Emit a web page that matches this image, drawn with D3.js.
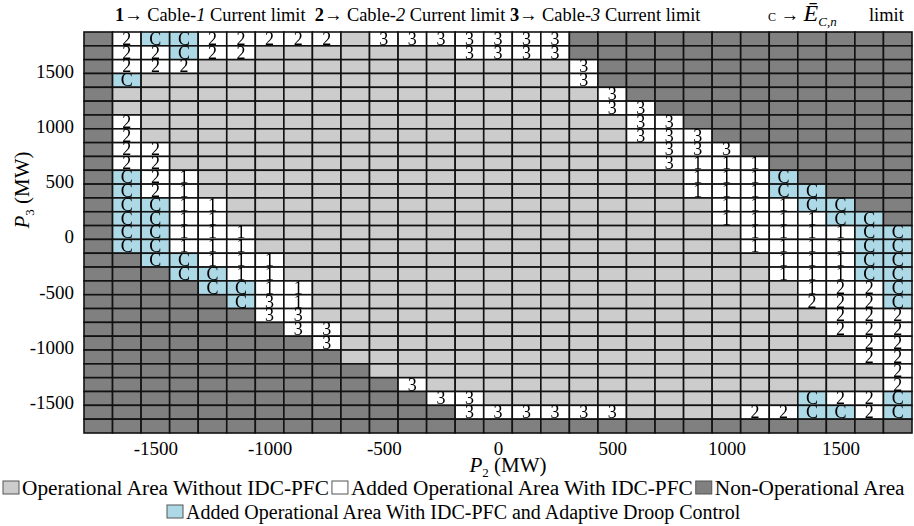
<!DOCTYPE html>
<html>
<head>
<meta charset="utf-8">
<script src="https://cdn.jsdelivr.net/npm/d3@7/dist/d3.min.js"></script>
<style>
  body { margin: 0; background: #fff; }
  text { font-family: "Liberation Serif", "Times New Roman", serif; }
</style>
</head>
<body>
<svg id="chart"></svg>
<script>
// P2 along x, P3 along y, 125 MW steps
let p2Values = d3.range(-1750, 1751, 125);
let p3Values = d3.range(1750, -1751, -125);

// one string per P3 row (top to bottom), one char per P2 column (left to right)
// D = non-operational, G = operational without IDC-PFC,
// 1/2/3 = added with IDC-PFC (limited by that cable), C = added with adaptive droop
let gridRows = [
  "D2CC22222G3333333DDDDDDDDDDDD",
  "D22C22GGGGGGG3333DDDDDDDDDDDD",
  "D222GGGGGGGGGGGGG3DDDDDDDDDDD",
  "DCGGGGGGGGGGGGGGG3DDDDDDDDDDD",
  "DGGGGGGGGGGGGGGGGG3DDDDDDDDDD",
  "DGGGGGGGGGGGGGGGGG33DDDDDDDDD",
  "D2GGGGGGGGGGGGGGGGG33DDDDDDDD",
  "D2GGGGGGGGGGGGGGGGG333DDDDDDD",
  "D22GGGGGGGGGGGGGGGGG333DDDDDD",
  "D22GGGGGGGGGGGGGGGGG3111DDDDD",
  "DC21GGGGGGGGGGGGGGGGG111CDDDD",
  "DC21GGGGGGGGGGGGGGGGG111CCDDD",
  "DCC11GGGGGGGGGGGGGGGGG111CCDD",
  "DCC11GGGGGGGGGGGGGGGGG1111CCD",
  "DCC111GGGGGGGGGGGGGGGGG1111CC",
  "DCC111GGGGGGGGGGGGGGGGG1111CC",
  "DDCC111GGGGGGGGGGGGGGGGG111CC",
  "DDDCC11GGGGGGGGGGGGGGGGG111CC",
  "DDDDCC11GGGGGGGGGGGGGGGGG122C",
  "DDDDDC31GGGGGGGGGGGGGGGGG222C",
  "DDDDDD33GGGGGGGGGGGGGGGGGG222",
  "DDDDDDD33GGGGGGGGGGGGGGGGG222",
  "DDDDDDDD3GGGGGGGGGGGGGGGGGG22",
  "DDDDDDDDDGGGGGGGGGGGGGGGGGG22",
  "DDDDDDDDDDGGGGGGGGGGGGGGGGGG2",
  "DDDDDDDDDDD3GGGGGGGGGGGGGGGG2",
  "DDDDDDDDDDDD33GGGGGGGGGGGC22C",
  "DDDDDDDDDDDDD333333GGGG22CC2C",
  "DDDDDDDDDDDDDDDDDDDDDDDDDDDDD"
];

let xTicks = [-1500, -1000, -500, 0, 500, 1000, 1500];
let yTicks = [1500, 1000, 500, 0, -500, -1000, -1500];

let legendRow1 = [
  { code: "G", label: "Operational Area Without IDC-PFC" },
  { code: "1", label: "Added Operational Area With IDC-PFC" },
  { code: "D", label: "Non-Operational Area" }
];
let legendRow2 = [
  { code: "C", label: "Added Operational Area With IDC-PFC and Adaptive Droop Control" }
];

let fills = { D: "#808080", G: "#cccccc", "1": "#ffffff", "2": "#ffffff", "3": "#ffffff", C: "#add8e6" };

let w = 914;
let h = 526;
let svg = d3.select("#chart").attr("width", w).attr("height", h);

// grey filter so the cell digits get plain (not coloured) antialiasing
svg.append("defs").append("filter").attr("id", "mono")
  .append("feColorMatrix").attr("type", "saturate").attr("values", 0);

let x = d3.scaleBand().domain(p2Values).range([84, 912]);
let y = d3.scaleBand().domain(p3Values).range([32, 433]);
let bw = x.bandwidth();
let bh = y.bandwidth();

let cells = [];
gridRows.forEach((row, i) => {
  row.split("").forEach((code, j) => {
    cells.push({ p2: p2Values[j], p3: p3Values[i], code: code });
  });
});

svg.append("g").selectAll("rect")
  .data(cells)
  .enter()
  .append("rect")
  .attr("x", d => x(d.p2))
  .attr("y", d => y(d.p3))
  .attr("width", bw)
  .attr("height", bh)
  .attr("fill", d => fills[d.code])
  .attr("stroke", "#111")
  .attr("stroke-width", 1.6);

svg.append("g").attr("filter", "url(#mono)")
  .selectAll("text")
  .data(cells.filter(d => "123C".includes(d.code)))
  .enter()
  .append("text")
  .attr("x", d => x(d.p2) + bw / 2)
  .attr("y", d => y(d.p3) + bh - 1)
  .attr("text-anchor", "middle")
  .attr("font-size", 18)
  .attr("fill", "#000")
  .text(d => d.code);

// axes: linear scales through the band centres
let xLin = d3.scaleLinear().domain([-1750, 1750]).range([x(-1750) + bw / 2, x(1750) + bw / 2]);
let yLin = d3.scaleLinear().domain([1750, -1750]).range([y(1750) + bh / 2, y(-1750) + bh / 2]);

let xAxis = svg.append("g")
  .attr("transform", "translate(0,433)")
  .call(d3.axisBottom(xLin).tickValues(xTicks).tickSize(0).tickPadding(9).tickFormat(d => String(d)));
xAxis.select(".domain").remove();
xAxis.selectAll("text").attr("font-size", 19).attr("font-family", null).attr("fill", "#000");

let yAxis = svg.append("g")
  .attr("transform", "translate(84,0)")
  .call(d3.axisLeft(yLin).tickValues(yTicks).tickSize(0).tickPadding(10).tickFormat(d => String(d)));
yAxis.select(".domain").remove();
yAxis.selectAll("text").attr("font-size", 19).attr("font-family", null).attr("fill", "#000").attr("dy", "0.55em");

// axis titles
let xTitle = svg.append("text")
  .attr("x", 508).attr("y", 472)
  .attr("text-anchor", "middle")
  .attr("font-size", 21);
xTitle.append("tspan").attr("font-style", "italic").text("P");
xTitle.append("tspan").attr("font-size", 13).attr("dy", 5).text("2");
xTitle.append("tspan").attr("dy", -5).text(" (MW)");

let yTitle = svg.append("text")
  .attr("transform", "translate(29,190) rotate(-90)")
  .attr("text-anchor", "middle")
  .attr("font-size", 21);
yTitle.append("tspan").attr("font-style", "italic").text("P");
yTitle.append("tspan").attr("font-size", 13).attr("dy", 5).text("3");
yTitle.append("tspan").attr("dy", -5).text(" (MW)");

// title line
let titleParts = [
  { t: "1", b: true }, { t: "\u2192 Cable-" }, { t: "1", i: true }, { t: " Current limit  " },
  { t: "2", b: true }, { t: "\u2192 Cable-" }, { t: "2", i: true }, { t: " Current limit " },
  { t: "3", b: true }, { t: "\u2192 Cable-" }, { t: "3", i: true }, { t: " Current limit" },
  { t: "C", s: 12, x: 768 }, { t: " \u2192 " }, { t: "\u0112", i: true, s: 24 }, { t: "C,n", i: true, s: 13, dy: 5 },
  { t: "limit", dy: -5, x: 869 }
];
let title = svg.append("text")
  .attr("x", 115).attr("y", 21)
  .attr("font-size", 18.4)
  .style("white-space", "pre");
titleParts.forEach(p => {
  let ts = title.append("tspan").text(p.t);
  if (p.b) ts.attr("font-weight", "bold");
  if (p.i) ts.attr("font-style", "italic");
  if (p.s) ts.attr("font-size", p.s);
  if (p.x) ts.attr("x", p.x);
  if (p.dy) ts.attr("dy", p.dy);
});

// legend
function legendRow(items, startX, cy, fs) {
  let cx = startX;
  items.forEach(item => {
    svg.append("rect")
      .attr("x", cx).attr("y", cy - 7)
      .attr("width", 16).attr("height", 13)
      .attr("fill", fills[item.code])
      .attr("stroke", "#555").attr("stroke-width", 1);
    let t = svg.append("text")
      .attr("x", cx + 19).attr("y", cy + 7)
      .attr("font-size", fs)
      .text(item.label);
    cx += 19 + t.node().getComputedTextLength() + 3;
  });
}
legendRow(legendRow1, 3, 488, 21.3);
legendRow(legendRow2, 167, 512, 20);
</script>
</body>
</html>
